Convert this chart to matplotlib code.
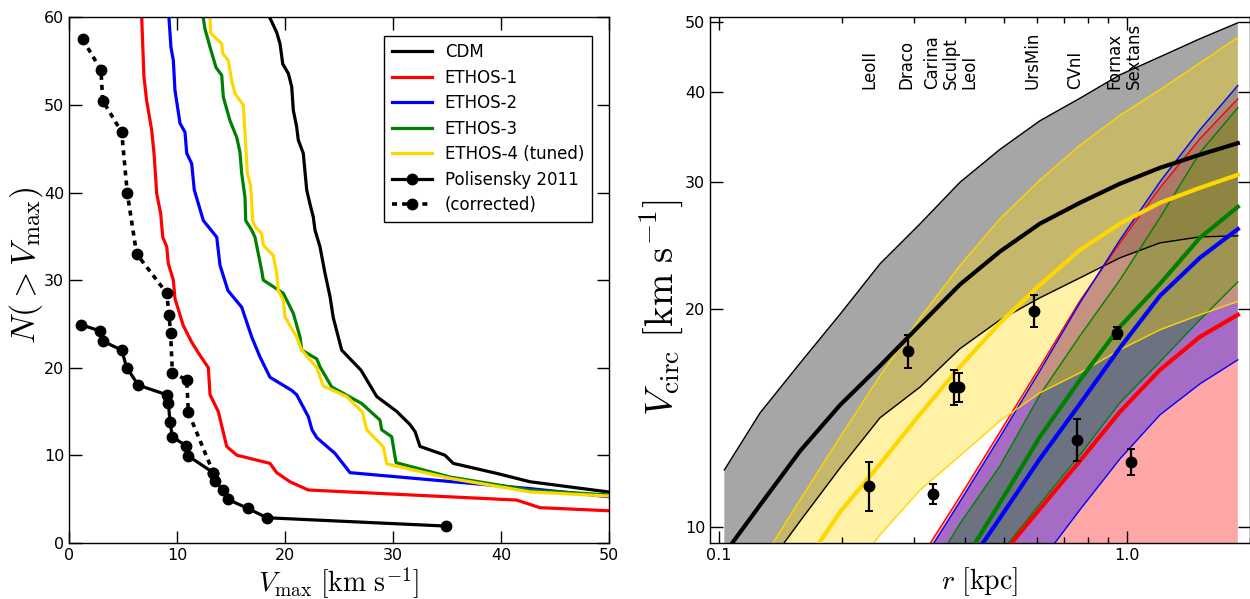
import matplotlib
matplotlib.use('Agg')
import matplotlib.pyplot as plt
from matplotlib.ticker import FixedLocator, FixedFormatter, NullLocator, NullFormatter, LogLocator

plt.rcParams['mathtext.fontset'] = 'cm'
plt.rcParams['font.family'] = ['DejaVu Sans']

# ---------------- Left panel: cumulative Vmax functions ----------------
cdm_vmax = [18.2, 19.23, 19.54, 19.79, 20.31, 20.62, 20.77, 21.08, 21.23, 21.69, 22.01, 22.31, 22.62,
            22.78, 23.24, 23.7, 24.17, 24.47, 25.25, 27.04, 28.49, 30.34, 31.57, 32.04, 32.5,
            34.81, 35.58, 39.6, 42.69, 50.0]
cdm_n = [61, 58.3, 57.0, 54.7, 53.6, 52.1, 49.4, 47.5, 46.0, 44.5, 40.3, 38.7, 37.2,
         35.7, 33.8, 30.8, 28.1, 25.7, 22.0, 19.7, 16.7, 15.0, 13.5, 12.7, 11.0,
         10.0, 9.06, 7.92, 6.96, 5.79]

e1_vmax = [6.7, 6.94, 7.19, 7.66, 7.87, 8.12, 8.49, 8.68, 9.05, 9.19, 9.66, 9.81, 10.58, 11.36,
           12.13, 12.9, 13.06, 13.82, 14.6, 15.53, 18.61, 19.23, 20.46, 22.16, 41.45, 43.6, 50.0]
e1_n = [61, 53.2, 50.5, 47.1, 44.5, 39.9, 37.6, 34.9, 33.8, 31.9, 30.0, 27.9, 24.8, 22.9,
        21.4, 20.0, 16.9, 15.0, 11.0, 10.0, 9.06, 8.0, 6.96, 6.02, 4.87, 4.0, 3.65]

e2_vmax = [9.2, 9.44, 9.66, 9.81, 10.28, 10.74, 10.9, 11.36, 11.6, 12.44, 13.68, 13.98, 14.72,
           15.99, 16.92, 17.69, 18.61, 20.62, 21.08, 22.16, 22.5, 22.94, 24.63, 26.02, 42.5, 50.0]
e2_n = [61, 56.6, 55.1, 51.7, 47.9, 46.9, 44.5, 43.3, 40.3, 36.8, 34.9, 31.7, 28.8,
        26.9, 23.5, 21.2, 18.9, 17.4, 16.9, 14.4, 12.9, 12.0, 10.2, 8.0, 6.2, 5.25]

e3_vmax = [12.3, 12.59, 13.06, 13.61, 14.14, 14.29, 14.91, 15.53, 15.83, 15.99, 16.3, 16.36, 16.92,
           17.22, 17.84, 17.99, 19.84, 20.77, 21.39, 21.55, 22.94, 23.24, 24.32, 27.1, 28.8,
           28.95, 29.88, 30.28, 35.28, 42.7, 50.0]
e3_n = [61, 58.7, 56.6, 54.3, 53.4, 50.9, 48.2, 46.3, 44.6, 42.2, 39.4, 36.8, 35.7,
        34.9, 31.1, 30.0, 28.5, 26.2, 23.5, 22.0, 21.0, 20.1, 17.8, 15.9, 14.0,
        12.9, 12.1, 9.15, 7.5, 6.0, 5.45]

e4_vmax = [13.0, 13.12, 14.14, 14.23, 14.75, 15.06, 15.37, 16.14, 16.39, 16.51, 16.82, 17.01, 17.22,
           17.84, 17.99, 18.92, 19.23, 19.38, 19.84, 20.0, 21.08, 21.55, 22.94, 23.55, 25.71,
           27.18, 27.56, 29.1, 29.42, 35.28, 42.69, 50.0]
e4_n = [61, 58.2, 57.0, 55.9, 55.1, 52.8, 51.3, 50.0, 44.8, 42.2, 40.8, 36.8, 36.1,
        35.3, 34.0, 32.8, 30.8, 28.8, 27.7, 25.8, 23.5, 22.0, 20.0, 17.9, 16.7,
        14.9, 12.9, 10.96, 9.0, 7.35, 5.8, 5.33]

pol_vmax = [1.11, 2.87, 3.18, 4.88, 5.34, 6.42, 9.05, 9.2, 9.35, 9.57, 10.8, 11.05, 13.36, 13.5,
            14.3, 14.7, 16.55, 18.31, 34.88]
pol_n = [24.9, 24.2, 23.0, 22.0, 20.0, 18.0, 16.9, 16.0, 13.8, 12.1, 11.1, 9.9, 8.0, 7.0,
         6.0, 4.95, 3.93, 2.85, 1.9]

corr_vmax = [1.27, 2.96, 3.12, 4.88, 5.4, 6.26, 9.05, 9.26, 9.41, 9.57, 10.9, 11.05, 13.36]
corr_n = [57.5, 54.0, 50.5, 46.9, 39.9, 33.0, 28.5, 26.0, 23.9, 19.4, 18.6, 14.9, 8.0]

# ---------------- Right panel: circular velocity bands ----------------
r_kpc = [0.103, 0.126, 0.158, 0.198, 0.248, 0.311, 0.389, 0.488, 0.611, 0.766, 0.960, 1.203, 1.507, 1.867]

cdm_hi = [11.98, 14.37, 16.85, 19.69, 23.12, 26.27, 29.97, 33.30, 36.47, 39.19, 42.23, 44.72, 47.37, 49.85]
cdm_mid = [9.17, 10.71, 12.73, 14.74, 16.70, 19.03, 21.63, 24.04, 26.27, 28.08, 29.84, 31.39, 32.73, 33.96]
cdm_lo = [7.30, 8.55, 10.18, 12.06, 14.15, 15.61, 17.63, 19.33, 20.74, 22.10, 23.56, 24.71, 25.19, 25.27]

e1_hi = [3.27, 3.93, 4.83, 5.95, 7.33, 9.02, 11.0, 13.53, 16.64, 20.54, 24.71, 29.45, 34.43, 39.12]
e1_mid = [2.2, 2.7, 3.3, 4.0, 4.9, 6.0, 7.4, 9.08, 10.58, 12.33, 14.42, 16.48, 18.31, 19.65]
e1_lo = [1.6, 1.9, 2.3, 2.8, 3.3, 4.0, 4.7, 5.5, 6.3, 7.1, 7.8, 8.4, 8.8, 9.1]

e2_hi = [3.20, 3.85, 4.74, 5.85, 7.19, 8.85, 10.82, 13.31, 16.43, 20.41, 24.95, 30.02, 35.43, 40.81]
e2_mid = [2.75, 3.28, 3.97, 4.80, 5.81, 7.04, 8.52, 10.28, 12.41, 14.79, 17.68, 20.87, 23.56, 25.82]
e2_lo = [2.31, 2.69, 3.19, 3.79, 4.50, 5.33, 6.33, 7.50, 8.91, 10.55, 12.41, 14.28, 15.76, 17.02]

e3_hi = [3.02, 3.62, 4.44, 5.45, 6.68, 8.20, 10.09, 12.14, 15.22, 18.37, 21.96, 26.77, 32.94, 38.02]
e3_mid = [2.6, 3.1, 3.8, 4.68, 5.75, 7.08, 8.77, 10.79, 13.31, 15.96, 18.91, 21.68, 25.11, 27.72]
e3_lo = [2.1, 2.5, 3.0, 3.7, 4.5, 5.6, 7.3, 9.17, 10.75, 12.57, 14.84, 16.91, 19.33, 21.82]

e4_hi = [7.43, 8.89, 10.89, 13.31, 16.17, 19.46, 22.97, 26.68, 30.18, 33.73, 37.11, 40.26, 43.84, 47.57]
e4_mid = [6.07, 7.19, 8.68, 10.48, 12.21, 14.32, 16.64, 19.15, 21.61, 24.16, 26.27, 28.08, 29.45, 30.70]
e4_lo = [5.10, 5.92, 6.99, 8.26, 9.74, 11.24, 12.53, 14.01, 15.32, 16.33, 17.57, 18.73, 19.65, 20.50]

gal_names = ['LeoII', 'Draco', 'Carina', 'Sculpt', 'LeoI', 'UrsMin', 'CVnI', 'Fornax', 'Sextans']
gal_r = [0.233, 0.291, 0.335, 0.376, 0.388, 0.590, 0.752, 0.944, 1.021]
gal_v = [11.4, 17.5, 11.1, 15.6, 15.6, 19.9, 13.2, 18.55, 12.3]
gal_err = [0.9, 0.9, 0.35, 0.87, 0.7, 1.0, 0.88, 0.35, 0.52]

# galaxy name labels along the top (Sculpt and LeoI share one label)
lab_texts = ['LeoII', 'Draco', 'Carina', 'Sculpt\nLeoI', 'UrsMin', 'CVnI', 'Fornax', 'Sextans']
lab_r = [0.233, 0.288, 0.332, 0.390, 0.585, 0.747, 0.932, 1.040]

labels = ['CDM', 'ETHOS-1', 'ETHOS-2', 'ETHOS-3', 'ETHOS-4 (tuned)']
colors = ['black', 'red', 'blue', 'green', 'gold']

fig = plt.figure(figsize=(12.5, 5.99), dpi=100)
axL = fig.add_axes([0.0552, 0.094, 0.432, 0.8768])
axR = fig.add_axes([0.568, 0.094, 0.432, 0.8768])

# ---- left
left_curves = [(cdm_vmax, cdm_n), (e1_vmax, e1_n), (e2_vmax, e2_n), (e3_vmax, e3_n), (e4_vmax, e4_n)]
for (vx, ny), c, lab in zip(left_curves, colors, labels):
    axL.plot(vx, ny, color=c, lw=2.3, label=lab)
axL.plot(pol_vmax, pol_n, color='k', lw=2.3, marker='o', ms=7.5, label='Polisensky 2011')
axL.plot(corr_vmax, corr_n, color='k', lw=2.6, ls=(0, (1.4, 1.4)), marker='o', ms=7.5, label='(corrected)')
axL.set_xlim(0, 50)
axL.set_ylim(0, 60)
axL.set_xticks([0, 10, 20, 30, 40, 50])
axL.set_yticks([0, 10, 20, 30, 40, 50, 60])
axL.set_xlabel(r'$V_{\rm max}\ [{\rm km\ s^{-1}}]$', fontsize=20, labelpad=2)
axL.set_ylabel(r'$N(>V_{\rm max})$', fontsize=24.5)
axL.yaxis.set_label_coords(-0.045, 0.527)
leg = axL.legend(loc='upper right', bbox_to_anchor=(0.968, 0.9653), borderaxespad=0,
                 fontsize=12, numpoints=1, fancybox=False, framealpha=1, edgecolor='k',
                 handlelength=2.4, labelspacing=0.45, borderpad=0.45, handletextpad=0.8)
leg.get_frame().set_linewidth(1.0)

# ---- right
bands = [(cdm_lo, cdm_mid, cdm_hi), (e1_lo, e1_mid, e1_hi), (e2_lo, e2_mid, e2_hi),
         (e3_lo, e3_mid, e3_hi), (e4_lo, e4_mid, e4_hi)]
for (lo, mid, hi), c in zip(bands, colors):
    axR.fill_between(r_kpc, lo, hi, color=c, alpha=0.35, lw=0, zorder=1)
for (lo, mid, hi), c in zip(bands, colors):
    axR.plot(r_kpc, lo, color=c, lw=1.0, zorder=2)
    axR.plot(r_kpc, hi, color=c, lw=1.0, zorder=2)
for (lo, mid, hi), c in zip(bands, colors):
    axR.plot(r_kpc, mid, color=c, lw=3.0, zorder=3)
axR.errorbar(gal_r, gal_v, yerr=gal_err, fmt='o', color='k', ms=7.5, elinewidth=1.6,
             capsize=3, capthick=1.4, zorder=5)

axR.set_xscale('log')
axR.set_yscale('log')
axR.set_xlim(0.095, 2.0)
axR.set_ylim(9.5, 50.7)
axR.xaxis.set_major_locator(FixedLocator([0.1, 1.0]))
axR.xaxis.set_major_formatter(FixedFormatter(['0.1', '1.0']))
axR.xaxis.set_minor_locator(LogLocator(base=10, subs=[2, 3, 4, 5, 6, 7, 8, 9]))
axR.xaxis.set_minor_formatter(NullFormatter())
axR.yaxis.set_major_locator(FixedLocator([10, 20, 30, 40, 50]))
axR.yaxis.set_major_formatter(FixedFormatter(['10', '20', '30', '40', '50']))
axR.yaxis.set_minor_locator(NullLocator())
axR.set_xlabel(r'$r\ [{\rm kpc}]$', fontsize=20, labelpad=2)
axR.set_ylabel(r'$V_{\rm circ}\ [{\rm km\ s^{-1}}]$', fontsize=28)
axR.yaxis.set_label_coords(-0.047, 0.447)

for t, rr in zip(lab_texts, lab_r):
    axR.text(rr, 40.3, t, rotation=90, ha='center', va='bottom', fontsize=12,
             multialignment='left', linespacing=1.0, zorder=6)

for ax in (axL, axR):
    ax.tick_params(which='both', direction='in', top=True, right=True, labelsize=11.5)
    ax.tick_params(which='major', length=9, width=1)
    ax.tick_params(which='minor', length=4.5, width=1)
    for s in ax.spines.values():
        s.set_linewidth(1.0)

fig.savefig('out.png', dpi=100)
